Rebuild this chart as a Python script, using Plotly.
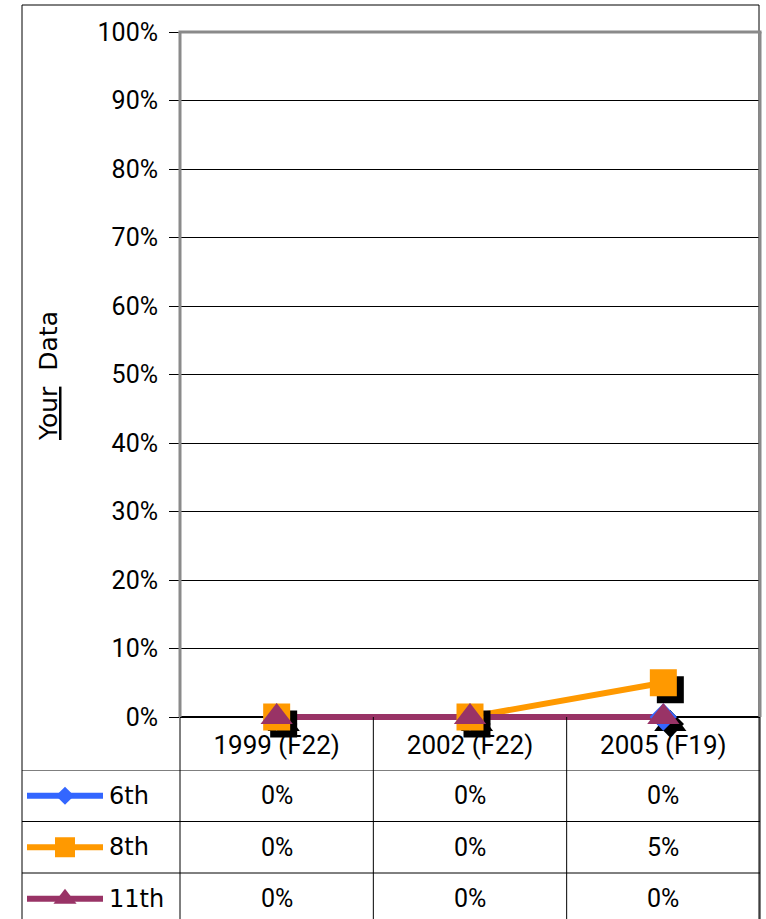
import plotly.graph_objects as go

# ---------------- data ----------------
categories = ["1999 (F22)", "2002 (F22)", "2005 (F19)"]
series_names = ["6th", "8th", "11th"]
values_6th = [0.00, 0.00, 0.00]
values_8th = [0.00, 0.00, 0.05]
values_11th = [0.00, 0.00, 0.00]
y_tick_values = [0.0, 0.1, 0.2, 0.3, 0.4, 0.5, 0.6, 0.7, 0.8, 0.9, 1.0]
axis_title = "<u>Your</u>\u00a0 Data"

series_values = {"6th": values_6th, "8th": values_8th, "11th": values_11th}

# ---------------- styles ----------------
colors = {"6th": "#3366FF", "8th": "#FF9900", "11th": "#993366"}
symbols = {"6th": "diamond", "8th": "square", "11th": "triangle-up"}
plot_sizes = {"6th": 21, "8th": 27, "11th": 28}
key_sizes = {"6th": 14, "8th": 20, "11th": 20}

W, H = 766, 919
PL, PR, PT, PB = 180, 760, 32, 717
PPU = PB - PT            # pixels for 100 %
EXT = 4                  # px of main plot area below 0 % (keeps the zero line unclipped)
EY = 20                  # extra px of marker domains above/below the plot
COLW = (PR - PL) / len(categories)
SH = 7                   # marker shadow offset in px
ROW_TOP = 770
ROW_H = 51.5

NUMF = "Roboto, Liberation Sans, sans-serif"
WIDE = "DejaVu Sans, Verdana, sans-serif"


def fx(px):
    return px / W


def fy(py):
    return 1 - py / H


fig = go.Figure()

xr = [-0.5, len(categories) - 0.5]
yr = [-EXT / PPU, 1.0]
yr_ext = [-EY / PPU, 1.0 + EY / PPU]
ydom_ext = [fy(PB + EY), fy(PT - EY)]

# series lines on the main axes
for name in series_names:
    fig.add_trace(go.Scatter(
        x=categories, y=series_values[name], mode="lines",
        line=dict(color=colors[name], width=6),
        xaxis="x", yaxis="y", hoverinfo="skip", showlegend=False))

# marker shadows (x2/y2: same scale shifted by SH px right and down)
for name in series_names:
    fig.add_trace(go.Scatter(
        x=categories, y=series_values[name], mode="markers",
        marker=dict(symbol=symbols[name], size=plot_sizes[name], color="black",
                    line=dict(width=0)),
        xaxis="x2", yaxis="y2", cliponaxis=False, hoverinfo="skip", showlegend=False))

# markers (x3/y3: same scale as the main axes)
for name in series_names:
    fig.add_trace(go.Scatter(
        x=categories, y=series_values[name], mode="markers", name=name,
        marker=dict(symbol=symbols[name], size=plot_sizes[name], color=colors[name],
                    line=dict(width=0)),
        xaxis="x3", yaxis="y3", cliponaxis=False, showlegend=False))

# legend keys inside the data table (x4/y4)
for name in series_names:
    fig.add_trace(go.Scatter(
        x=[0, 1], y=[name, name], mode="lines",
        line=dict(color=colors[name], width=6),
        xaxis="x4", yaxis="y4", hoverinfo="skip", showlegend=False))
    fig.add_trace(go.Scatter(
        x=[0.5], y=[name], mode="markers",
        marker=dict(symbol=symbols[name], size=key_sizes[name], color=colors[name],
                    line=dict(width=0)),
        xaxis="x4", yaxis="y4", cliponaxis=False, hoverinfo="skip", showlegend=False))

# ---------------- annotations ----------------
annotations = []
for name in series_names:
    annotations.append(dict(
        x=fx(107), xref="paper", xanchor="left",
        y=name, yref="y4", yanchor="middle",
        text=name, showarrow=False,
        font=dict(family=WIDE, size=24, color="black")))
    for cat, v in zip(categories, series_values[name]):
        annotations.append(dict(
            x=cat, xref="x", xanchor="center",
            y=name, yref="y4", yanchor="middle",
            text=f"{v:.0%}", showarrow=False,
            font=dict(family=NUMF, size=25, color="black")))

annotations.append(dict(
    x=fx(48), xref="paper", xanchor="center",
    y=fy(376), yref="paper", yanchor="middle",
    text=axis_title, textangle=-90, showarrow=False,
    font=dict(family=WIDE, size=25, color="black")))

# ---------------- shapes ----------------
shapes = []
black = dict(color="black", width=1)
gray = dict(color="#8a8a8a", width=3)

# outer frame
shapes += [
    dict(type="line", xref="paper", yref="paper", x0=fx(22), x1=fx(759), y0=fy(5), y1=fy(5), line=black),
    dict(type="line", xref="paper", yref="paper", x0=fx(22), x1=fx(22), y0=fy(5), y1=0, line=black),
    dict(type="line", xref="paper", yref="paper", x0=fx(759), x1=fx(759), y0=fy(5), y1=0, line=black),
]
# table vertical lines
shapes += [
    dict(type="line", xref="paper", yref="paper", x0=fx(PL), x1=fx(PL), y0=fy(PB), y1=0, line=black),
    dict(type="line", xref="paper", yref="paper", x0=fx(PR), x1=fx(PR), y0=fy(PB), y1=0, line=black),
]
for i in range(len(categories) - 1):
    shapes.append(dict(type="line", xref="x", yref="paper", x0=i + 0.5, x1=i + 0.5,
                       y0=fy(PB), y1=0, line=black))
# table horizontal lines
for k in range(len(series_names)):
    shapes.append(dict(type="line", xref="paper", yref="y4", x0=fx(22), x1=fx(PR),
                       y0=k - 0.5, y1=k - 0.5, line=black))
# plot area border (gray)
shapes += [
    dict(type="line", xref="paper", yref="paper", x0=fx(PL - 1.5), x1=fx(PR + 1.5), y0=fy(PT), y1=fy(PT), line=gray),
    dict(type="line", xref="paper", yref="paper", x0=fx(PL), x1=fx(PL), y0=fy(PT), y1=fy(PB), line=gray),
    dict(type="line", xref="paper", yref="paper", x0=fx(PR), x1=fx(PR), y0=fy(PT), y1=fy(PB), line=gray),
]

hidden_cat_x = dict(type="category", categoryorder="array", categoryarray=categories,
                    domain=[fx(PL), fx(PR)], visible=False, automargin=False)

fig.update_layout(
    width=W, height=H,
    margin=dict(l=0, r=0, t=0, b=0, pad=0, autoexpand=False),
    paper_bgcolor="white", plot_bgcolor="rgba(0,0,0,0)",
    showlegend=False,
    annotations=annotations, shapes=shapes,
    xaxis=dict(type="category", categoryorder="array", categoryarray=categories,
               range=xr, domain=[fx(PL), fx(PR)], anchor="y",
               showgrid=False, showline=False, zeroline=False, ticks="",
               tickfont=dict(family=NUMF, size=26, color="black"),
               layer="below traces", ticklabelstandoff=6, automargin=False),
    yaxis=dict(type="linear", range=yr, domain=[fy(PB + EXT), fy(PT)], anchor="x",
               tickmode="array", tickvals=y_tick_values, tickformat=".0%",
               ticks="outside", ticklen=10, tickcolor="black", tickwidth=1,
               showgrid=True, gridcolor="black", gridwidth=1,
               zeroline=True, zerolinecolor="black", zerolinewidth=2,
               showline=False,
               tickfont=dict(family=NUMF, size=25, color="black"),
               ticklabelstandoff=6, automargin=False),
    xaxis2=dict(hidden_cat_x, anchor="y2", range=[xr[0] - SH / COLW, xr[1] - SH / COLW]),
    yaxis2=dict(type="linear", domain=ydom_ext, anchor="x2",
                range=[yr_ext[0] + SH / PPU, yr_ext[1] + SH / PPU],
                visible=False, automargin=False),
    xaxis3=dict(hidden_cat_x, anchor="y3", range=xr),
    yaxis3=dict(type="linear", domain=ydom_ext, anchor="x3", range=yr_ext,
                visible=False, automargin=False),
    xaxis4=dict(type="linear", domain=[fx(27), fx(103)], range=[0, 1], anchor="y4",
                visible=False, automargin=False),
    yaxis4=dict(type="category", categoryorder="array", categoryarray=series_names,
                domain=[0, fy(ROW_TOP)], anchor="x4",
                range=[(H - ROW_TOP) / ROW_H - 0.5, -0.5], visible=False, automargin=False),
)

fig.write_html("out.html", config={"displayModeBar": False},
               post_script="document.body.style.margin='0px';")
